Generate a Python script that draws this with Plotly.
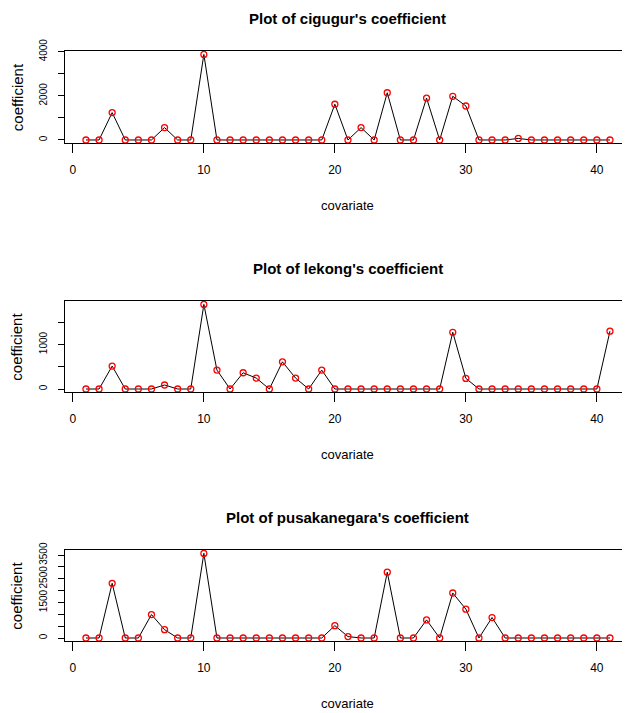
import plotly.graph_objects as go

covariate = list(range(1, 42))

cigugur = [0, 0, 1240, 0, 0, 0, 560, 0, 0, 3877,
           0, 0, 0, 0, 0, 0, 0, 0, 0, 1620,
           0, 560, 0, 2140, 0, 0, 1900, 0, 1980, 1540,
           0, 0, 0, 70, 0, 0, 0, 0, 0, 0, 0]

lekong = [0, 0, 515, 0, 0, 0, 90, 0, 0, 1902,
          425, 0, 365, 246, 0, 611, 246, 0, 425, 0,
          0, 0, 0, 0, 0, 0, 0, 0, 1275, 239,
          0, 0, 0, 0, 0, 0, 0, 0, 0, 0, 1300]

pusakanegara = [0, 0, 2310, 0, 0, 990, 353, 0, 0, 3574,
                0, 0, 0, 0, 0, 0, 0, 0, 0, 523,
                60, 0, 0, 2780, 0, 0, 766, 0, 1900, 1220,
                0, 865, 0, 0, 0, 0, 0, 0, 0, 0, 0]

panel_names = ["cigugur", "lekong", "pusakanegara"]
panel_values = [cigugur, lekong, pusakanegara]

x_ticks = [0, 10, 20, 30, 40]
y_ticks = [[0, 1000, 2000, 3000, 4000],
           [0, 500, 1000, 1500],
           [0, 500, 1000, 1500, 2000, 2500, 3000, 3500]]
y_ticktext = [["0", "", "2000", "", "4000"],
              ["0", "", "1000", ""],
              ["0", "", "", "1500", "", "2500", "", "3500"]]

# page body has an 8px margin, so the figure is drawn 8px in from the corner
OFF = 8
W, H = 630 - OFF, 713 - OFF
L = 65 - OFF
panel_px = [(51 - OFF, 143.4 - OFF), (301 - OFF, 392.4 - OFF), (550 - OFF, 641.4 - OFF)]
FONT = "Liberation Sans, Arial, sans-serif"

fig = go.Figure()
layout = dict(
    template="none",
    width=W, height=H,
    margin=dict(l=L, r=0, t=0, b=0, pad=0, autoexpand=False),
    paper_bgcolor="white", plot_bgcolor="white",
    showlegend=False,
    font=dict(family=FONT, size=12, color="black"),
)
annotations = []
for i, (name, vals) in enumerate(zip(panel_names, panel_values)):
    k = "" if i == 0 else str(i + 1)
    fig.add_trace(go.Scatter(
        x=covariate, y=vals, mode="lines+markers",
        line=dict(color="black", width=1),
        marker=dict(symbol="circle-open", color="red", size=6,
                    line=dict(width=1.3, color="red")),
        xaxis="x" + k, yaxis="y" + k, hoverinfo="skip",
    ))
    top, bot = panel_px[i]
    dom = [1 - bot / H, 1 - top / H]
    lo, hi = min(vals), max(vals)
    ext = 0.04 * (hi - lo)
    layout["xaxis" + k] = dict(
        domain=[0, 1], range=[-0.6, 42.53], anchor="y" + k,
        automargin=False,
        showgrid=False, zeroline=False,
        showline=True, mirror=True, linecolor="black", linewidth=1,
        ticks="outside", ticklen=9, tickwidth=1, tickcolor="black",
        tickvals=x_ticks, ticklabelstandoff=6,
        tickfont=dict(size=12, family=FONT),
    )
    layout["yaxis" + k] = dict(
        domain=dom, range=[lo - ext, hi + ext], anchor="x" + k,
        automargin=False,
        showgrid=False, zeroline=False,
        showline=True, mirror=False, linecolor="black", linewidth=1,
        ticks="outside", ticklen=6, tickwidth=1, tickcolor="black",
        tickvals=y_ticks[i], ticktext=y_ticktext[i], tickangle=-90,
        ticklabelstandoff=7,
        tickfont=dict(size=10, family=FONT),
    )
    annotations.append(dict(
        text="<b>Plot of %s's coefficient</b>" % name,
        xref="paper", yref="paper", x=0.5, y=1 - (top - 33) / H,
        xanchor="center", yanchor="middle", showarrow=False,
        font=dict(size=15, family=FONT, color="black"),
    ))
    annotations.append(dict(
        text="covariate", xref="paper", yref="paper",
        x=0.5, y=1 - (bot + 62) / H,
        xanchor="center", yanchor="middle", showarrow=False,
        font=dict(size=13, family=FONT, color="black"),
    ))
    annotations.append(dict(
        text="coefficient", xref="paper", yref="paper",
        x=(17 - 65) / (W - L), y=1 - ((top + bot) / 2) / H,
        xanchor="center", yanchor="middle", showarrow=False, textangle=-90,
        font=dict(size=15, family=FONT, color="black"),
    ))
layout["annotations"] = annotations
fig.update_layout(**layout)
fig.write_html("out.html")
